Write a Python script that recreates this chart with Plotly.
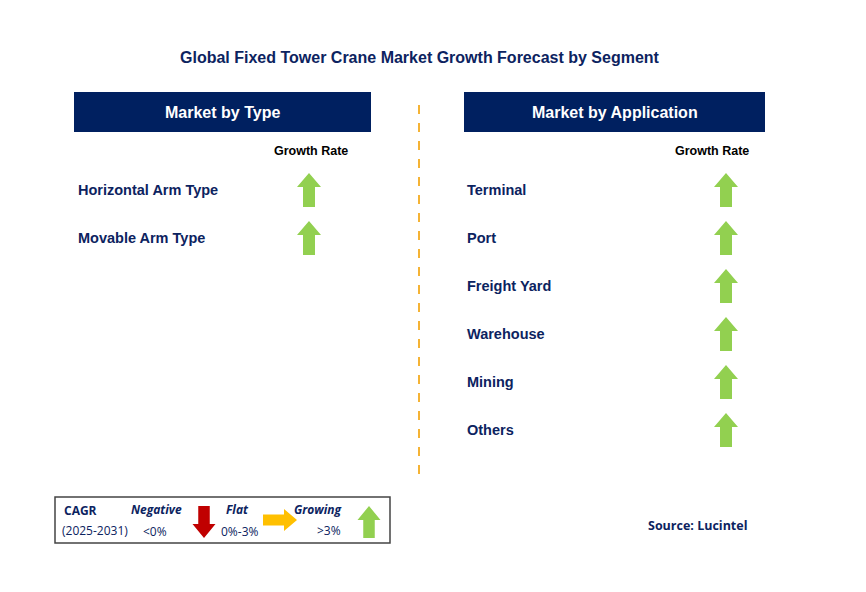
import plotly.graph_objects as go

title = "Global Fixed Tower Crane Market Growth Forecast by Segment"
type_items = ["Horizontal Arm Type", "Movable Arm Type"]
type_growth = ["up", "up"]
app_items = ["Terminal", "Port", "Freight Yard", "Warehouse", "Mining", "Others"]
app_growth = ["up", "up", "up", "up", "up", "up"]

NAVY = "#0c2360"
GREEN = "#92d050"
RED = "#c00000"
YELLOW = "#ffc000"


def arrow(cx, cy, kind, w=24, h=34, color=GREEN):
    hw, sw = w / 2, w / 4
    if kind == "up":
        pts = [(cx, cy - h/2), (cx + hw, cy - h/2 + 14), (cx + sw, cy - h/2 + 14),
               (cx + sw, cy + h/2), (cx - sw, cy + h/2), (cx - sw, cy - h/2 + 14),
               (cx - hw, cy - h/2 + 14)]
    elif kind == "down":
        pts = [(cx, cy + h/2), (cx + hw, cy + h/2 - 14), (cx + sw, cy + h/2 - 14),
               (cx + sw, cy - h/2), (cx - sw, cy - h/2), (cx - sw, cy + h/2 - 14),
               (cx - hw, cy + h/2 - 14)]
    else:  # right
        pts = [(cx + w/2, cy), (cx + w/2 - 13, cy - h/2), (cx + w/2 - 13, cy - h/4),
               (cx - w/2, cy - h/4), (cx - w/2, cy + h/4), (cx + w/2 - 13, cy + h/4),
               (cx + w/2 - 13, cy + h/2)]
    path = "M " + " L ".join(f"{x},{y}" for x, y in pts) + " Z"
    return dict(type="path", path=path, fillcolor=color, line=dict(width=0), layer="above")


fig = go.Figure()
shapes = []
ann = []
F = "Liberation Sans"

ann.append(dict(x=420, y=57, text=f"<b>{title}</b>", font=dict(size=16, color=NAVY, family=F)))

for x0, x1, label in [(74, 371, "Market by Type"), (464, 765, "Market by Application")]:
    shapes.append(dict(type="rect", x0=x0, x1=x1, y0=92, y1=132, fillcolor="#002060", line=dict(width=0)))
    ann.append(dict(x=(x0 + x1) / 2, y=112, text=f"<b>{label}</b>", font=dict(size=16, color="white", family=F)))

ann.append(dict(x=311, y=151, text="<b>Growth Rate</b>", font=dict(size=12.5, color="black", family=F)))
ann.append(dict(x=712, y=151, text="<b>Growth Rate</b>", font=dict(size=12.5, color="black", family=F)))

shapes.append(dict(type="line", x0=419, x1=419, y0=105, y1=478, line=dict(color="#f5b335", width=2, dash="dash")))

for i, (name, g) in enumerate(zip(type_items, type_growth)):
    y = 190 + 48 * i
    ann.append(dict(x=76, y=y, text=f"<b>{name}</b>", xanchor="left", font=dict(size=14.5, color=NAVY, family=F)))
    shapes.append(arrow(309, y, g))

for i, (name, g) in enumerate(zip(app_items, app_growth)):
    y = 190 + 48 * i
    ann.append(dict(x=465, y=y, text=f"<b>{name}</b>", xanchor="left", font=dict(size=14.5, color=NAVY, family=F)))
    shapes.append(arrow(726, y, g))

# legend box
L = "Open Sans"
shapes.append(dict(type="rect", x0=55, x1=390, y0=497, y1=543, line=dict(color="#444", width=1.5), fillcolor="white"))
ann += [
    dict(x=62, y=510, text="<b>CAGR</b>", xanchor="left", font=dict(size=12, color=NAVY, family=L)),
    dict(x=60, y=530, text="(2025-2031)", xanchor="left", font=dict(size=12, color=NAVY, family=L)),
    dict(x=156, y=509, text="<b><i>Negative</i></b>", font=dict(size=12, color=NAVY, family=L)),
    dict(x=155, y=531, text="<0%", font=dict(size=12, color=NAVY, family=L)),
    dict(x=237, y=509, text="<b><i>Flat</i></b>", font=dict(size=12, color=NAVY, family=L)),
    dict(x=240, y=531, text="0%-3%", font=dict(size=12, color=NAVY, family=L)),
    dict(x=318, y=509, text="<b><i>Growing</i></b>", font=dict(size=12, color=NAVY, family=L)),
    dict(x=329, y=530, text=">3%", font=dict(size=12, color=NAVY, family=L)),
    dict(x=750, y=525, text="<b>Source: Lucintel</b>", xanchor="right", font=dict(size=12.5, color=NAVY, family=L)),
]
shapes.append(arrow(204, 522, "down", w=23, h=32, color=RED))
shapes.append(arrow(280, 520, "right", w=34, h=22, color=YELLOW))
shapes.append(arrow(369, 522, "up", w=23, h=32, color=GREEN))

for a in ann:
    a.update(xref="x", yref="y", showarrow=False)

# page body has an 8px margin, so the axes start at 8 to keep pixel positions
fig.update_layout(
    width=866, height=592, margin=dict(l=0, r=0, t=0, b=0),
    plot_bgcolor="white", paper_bgcolor="white",
    shapes=shapes, annotations=ann, showlegend=False,
    xaxis=dict(range=[8, 874], visible=False, fixedrange=True),
    yaxis=dict(range=[600, 8], visible=False, fixedrange=True),
)
fig.write_html("out.html", config={"displayModeBar": False})
